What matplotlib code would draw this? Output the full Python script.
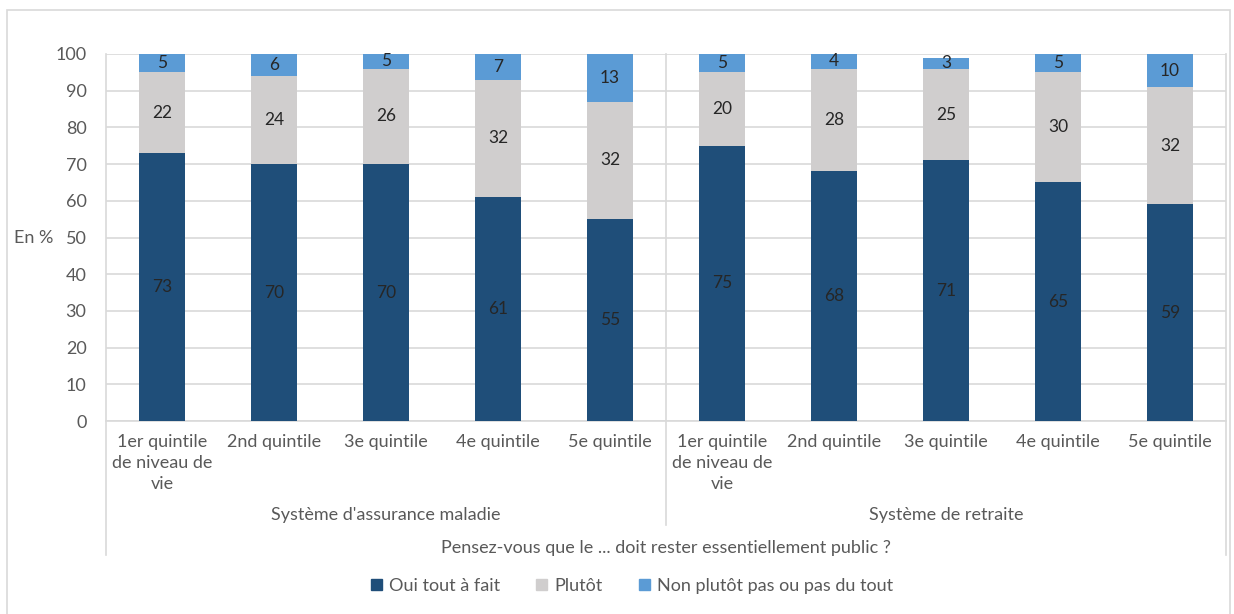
import matplotlib.pyplot as plt
from matplotlib.patches import Rectangle, Patch
from matplotlib.lines import Line2D

plt.rcParams['font.family'] = ['Lato', 'DejaVu Sans']

# Donnees
quintiles = ["1er quintile\nde niveau de\nvie", "2nd quintile", "3e quintile",
             "4e quintile", "5e quintile"] * 2
groupes = ["Système d'assurance maladie", "Système de retraite"]
question = "Pensez-vous que le ... doit rester essentiellement public ?"
oui = [73, 70, 70, 61, 55, 75, 68, 71, 65, 59]
plutot = [22, 24, 26, 32, 32, 20, 28, 25, 30, 32]
non = [5, 6, 5, 7, 13, 5, 4, 3, 5, 10]
series_noms = ["Oui tout à fait", "Plutôt", "Non plutôt pas ou pas du tout"]
couleurs = ["#1F4E79", "#D0CECE", "#5B9BD5"]

W, H = 1234, 614
fig = plt.figure(figsize=(W / 100, H / 100), dpi=100)
fig.patches.append(Rectangle((7 / W, -0.02), (1230 - 7) / W, 1 - 10 / H + 0.02,
                             transform=fig.transFigure, fill=False,
                             edgecolor="#D9D9D9", linewidth=1.2))

ax = fig.add_axes([106 / W, 1 - 421 / H, (1226 - 106) / W, (421 - 54) / H])
x = list(range(len(oui)))
bas2 = [a + b for a, b in zip(oui, plutot)]
largeur = 0.41
b1 = ax.bar(x, oui, width=largeur, color=couleurs[0], zorder=2)
b2 = ax.bar(x, plutot, bottom=oui, width=largeur, color=couleurs[1], zorder=2)
b3 = ax.bar(x, non, bottom=bas2, width=largeur, color=couleurs[2], zorder=2)
for bars, vals in ((b1, oui), (b2, plutot), (b3, non)):
    ax.bar_label(bars, labels=[str(v) for v in vals], label_type="center",
                 color="#262626", fontsize=12.5)

ax.set_xlim(-0.5, 9.5)
ax.set_ylim(0, 100)
ax.set_yticks(range(0, 101, 10))
ax.set_xticks([])
ax.tick_params(axis="y", length=0, pad=14, labelsize=13, labelcolor="#595959")
ax.grid(axis="y", color="#D9D9D9", linewidth=1.2, zorder=0)
for s in ("top", "left", "right"):
    ax.spines[s].set_visible(False)
ax.spines["bottom"].set_color("#D9D9D9")
ax.spines["bottom"].set_linewidth(1.2)
ax.spines["bottom"].set_zorder(1)

# Lignes verticales du cadre et de l'axe multi-niveaux
tr = ax.get_xaxis_transform()
for xv, ybas in ((-0.5, -0.365), (4.5, -0.283), (9.5, -0.365)):
    ax.add_line(Line2D([xv, xv], [1, ybas], transform=tr, color="#D9D9D9",
                       linewidth=1.2, clip_on=False, zorder=1))

for xi, lab in zip(x, quintiles):
    ax.text(xi, -0.035, lab, transform=tr, ha="center", va="top",
            fontsize=13, color="#595959", linespacing=1.4)
for gi, g in enumerate(groupes):
    ax.text(2 + 5 * gi, -0.256, g, transform=tr, ha="center", va="center",
            fontsize=13, color="#595959")
ax.text(4.5, -0.346, question, transform=tr, ha="center", va="center",
        fontsize=13, color="#595959")

fig.text(34 / W, 1 - 238 / H, "En %", ha="center", va="center",
         fontsize=13, color="#595959")

handles = [Patch(color=c, label=n) for c, n in zip(couleurs, series_noms)]
fig.legend(handles=handles, loc="center", ncol=3, frameon=False,
           bbox_to_anchor=(632 / W, 1 - 586 / H), fontsize=13,
           handlelength=0.6, handleheight=0.6, handletextpad=0.4,
           columnspacing=2.0, labelcolor="#595959")

fig.savefig("out.png", dpi=100)
